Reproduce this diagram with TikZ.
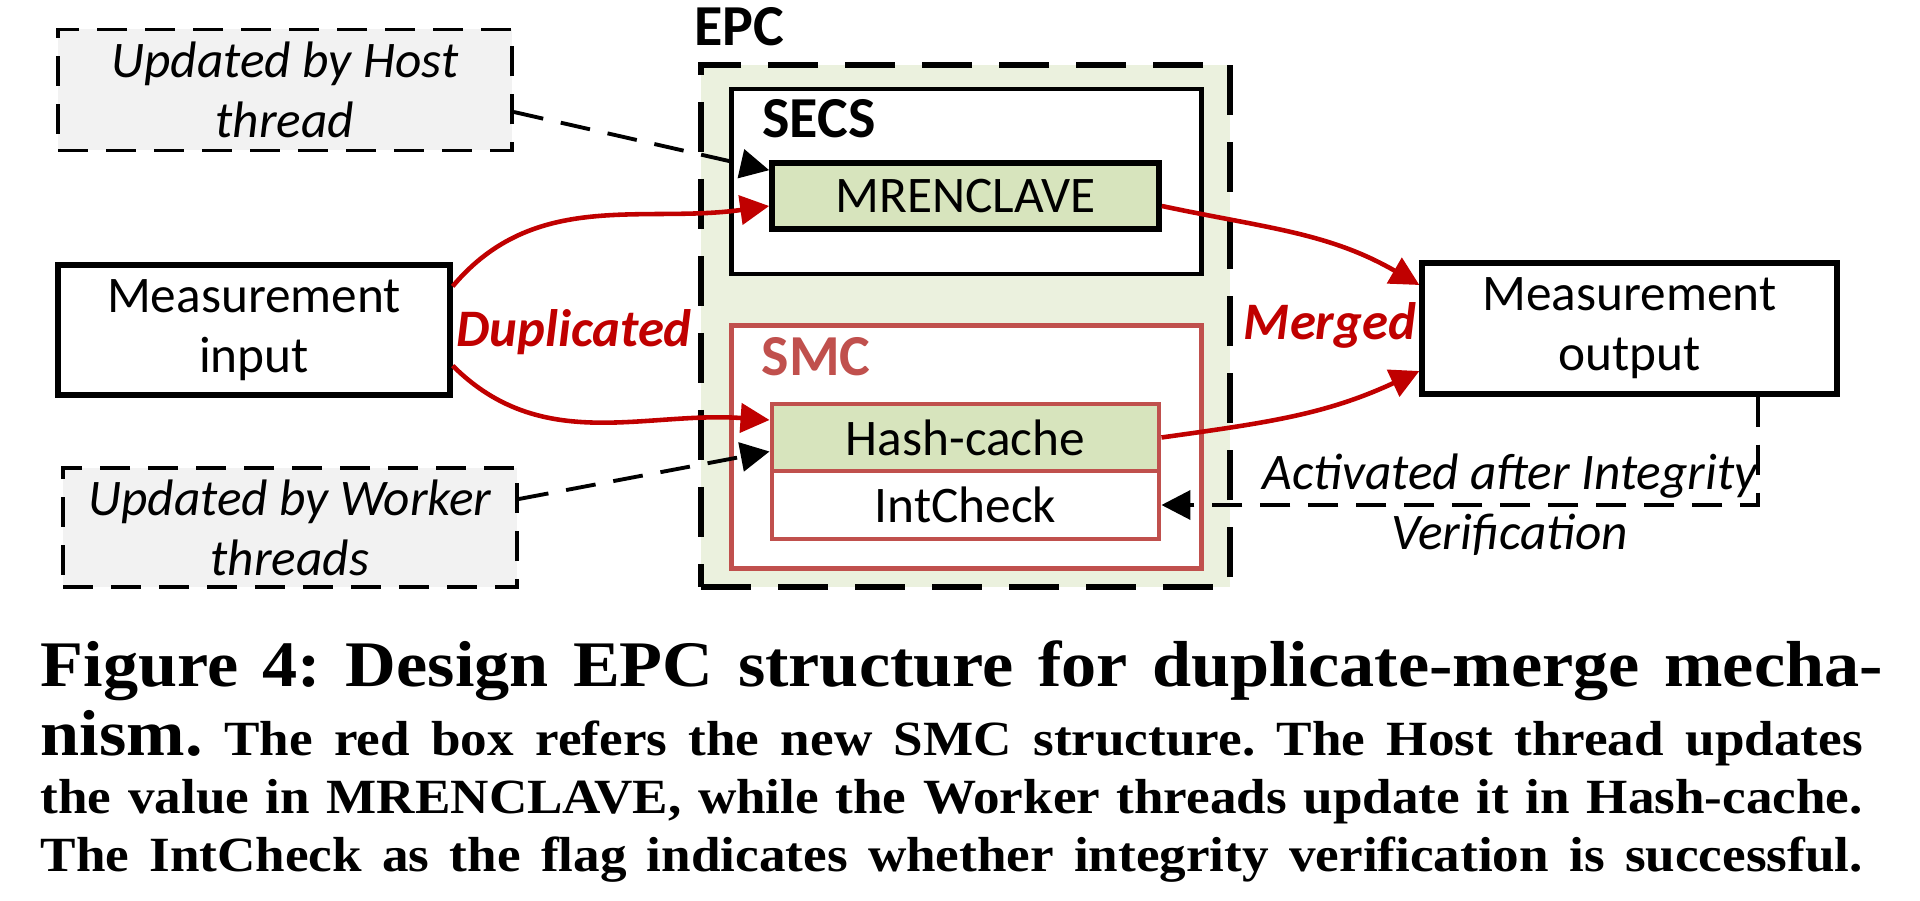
\documentclass[tikz,border=0pt]{standalone}
\usepackage{fontspec}
\setmainfont{Carlito}
\newfontfamily\capfont[FakeStretch=1.08]{Liberation Serif}
\usepackage{tikz}
\usetikzlibrary{calc, arrows.meta, positioning}
\usepackage{xcolor}
\definecolor{epcfill}{HTML}{EBF1DE}
\definecolor{regfill}{HTML}{D7E4BD}
\definecolor{notefill}{HTML}{F2F2F2}
\definecolor{smcred}{HTML}{C0504D}
\definecolor{flowred}{HTML}{C00000}
\frenchspacing

\begin{document}
\begin{tikzpicture}[>={Triangle[length=2.9mm, width=2.9mm]}, node distance = 1 cm]
	\tikzstyle{txt} = [font=\fontsize{14.6}{17}\selectfont, align=center, inner sep=0pt]
	\tikzstyle{note} = [txt, draw=black, fill=notefill, line width=1.1pt, dash pattern=on 3mm off 1.8mm, font=\fontsize{14.6}{17}\selectfont\itshape, minimum width=4.54cm]
	\tikzstyle{io} = [txt, draw=black, fill=white, line width=1.5pt]
	\tikzstyle{epcbox} = [draw=black, fill=epcfill, line width=1.7pt, dash pattern=on 5mm off 2.7mm, minimum width=5.29cm, minimum height=5.22cm, inner sep=0pt]
	\tikzstyle{frame} = [draw=black, fill=white, line width=1.4pt, minimum width=4.70cm, inner sep=0pt]
	\tikzstyle{reg} = [txt, draw=black, fill=regfill, line width=1.6pt, minimum width=3.87cm]
	\tikzstyle{hdr} = [font=\bfseries\fontsize{16.5}{18}\selectfont, inner sep=0pt]
	\tikzstyle{flow} = [color=flowred, line width=1.3pt, ->]
	\tikzstyle{upd} = [color=black, line width=1.1pt, dash pattern=on 3mm off 1.8mm, ->]
	\tikzstyle{flowlbl} = [font=\bfseries\itshape\fontsize{15}{17}\selectfont, text=flowred, inner sep=0pt]
	\tikzstyle{capline} = [font=\capfont\bfseries, anchor=base west, inner sep=0pt]
	
	\useasboundingbox (0,0) rectangle (19.2,9);
	
	\node[epcbox] 			at (9.655, 5.74)	(epc)	{};
	\node[hdr] 				at (7.39, 8.73)		(epcl)	{EPC};
	\node[frame, minimum height=1.85cm] 	at (9.665, 7.185)	(secs)	{};
	\node[hdr] 				at (8.19, 7.815)	(secsl)	{SECS};
	\node[frame, draw=smcred, minimum height=2.43cm] 	at (9.665, 4.53)	(smc)	{};
	\node[hdr, text=smcred] at (8.16, 5.43)		(smcl)	{SMC};
	\node[reg, minimum height=0.66cm] 		at (9.655, 7.04)	(mre)	{MRENCLAVE};
	\node[reg, draw=smcred, line width=1.4pt, minimum height=0.67cm] 	at (9.655, 4.625)	(hc)	{Hash-cache};
	\node[reg, draw=smcred, fill=white, line width=1.4pt, minimum height=0.68cm] 	at (9.655, 3.95)	(ic)	{IntCheck};
	
	\node[note, minimum height=1.21cm] 	at (2.85, 8.10)		(hst)	{Updated by Host\\thread};
	\node[note, minimum height=1.19cm] 	at (2.90, 3.725)	(wrk)	{Updated by Worker\\threads};
	\node[io, minimum width=3.92cm, minimum height=1.30cm] 	at (2.54, 5.70)		(inp)	{Measurement\\input};
	\node[io, minimum width=4.15cm, minimum height=1.31cm] 	at (16.295, 5.715)	(outp)	{Measurement\\output};
	\node[flowlbl] 			at (5.74, 5.68)		(dup)	{Duplicated};
	\node[flowlbl] 			at (13.30, 5.75)	(mrg)	{Merged};
	
	\path[flow]
	([yshift=-2.4mm]inp.north east)	edge [out=50, in=188]	([yshift=-1mm]mre.west)
	([yshift=3.2mm]inp.south east)	edge [out=-45, in=176]	([yshift=1.75mm]hc.west)
	([yshift=-1mm]mre.east)			edge [out=-12, in=150]	([yshift=4.35mm]outp.west)
	(hc.east)						edge [out=8, in=205]	([yshift=-4.25mm]outp.west);
	
	\path[upd]
	([yshift=-2.2mm]hst.east)	edge	([yshift=-1mm]mre.north west)
	([yshift=2.85mm]wrk.east)	edge	([yshift=-1.4mm]hc.west);
	\draw[upd] ([xshift=1.285cm]outp.south) |- node[txt, font=\fontsize{14.6}{17}\selectfont\itshape, pos=0.708] (act) {Activated after Integrity\\Verification} (ic.east);
	
	\node[capline] at (0.40, 2.135) (cap1) {\makebox[18.42cm][s]{\fontsize{18.5}{20}\selectfont Figure 4: Design EPC structure for duplicate-merge mecha-}};
	\node[capline] at (0.40, 1.45) (cap2) {\makebox[18.22cm][s]{\fontsize{14}{16}\selectfont {\fontsize{18.5}{20}\selectfont nism.} The red box refers the new SMC structure. The Host thread updates}};
	\node[capline] at (0.40, 0.87) (cap3) {\makebox[18.22cm][s]{\fontsize{14}{16}\selectfont the value in MRENCLAVE, while the Worker threads update it in Hash-cache.}};
	\node[capline] at (0.40, 0.29) (cap4) {\makebox[18.22cm][s]{\fontsize{14}{16}\selectfont The IntCheck as the flag indicates whether integrity verification is successful.}};
\end{tikzpicture}
\end{document}
